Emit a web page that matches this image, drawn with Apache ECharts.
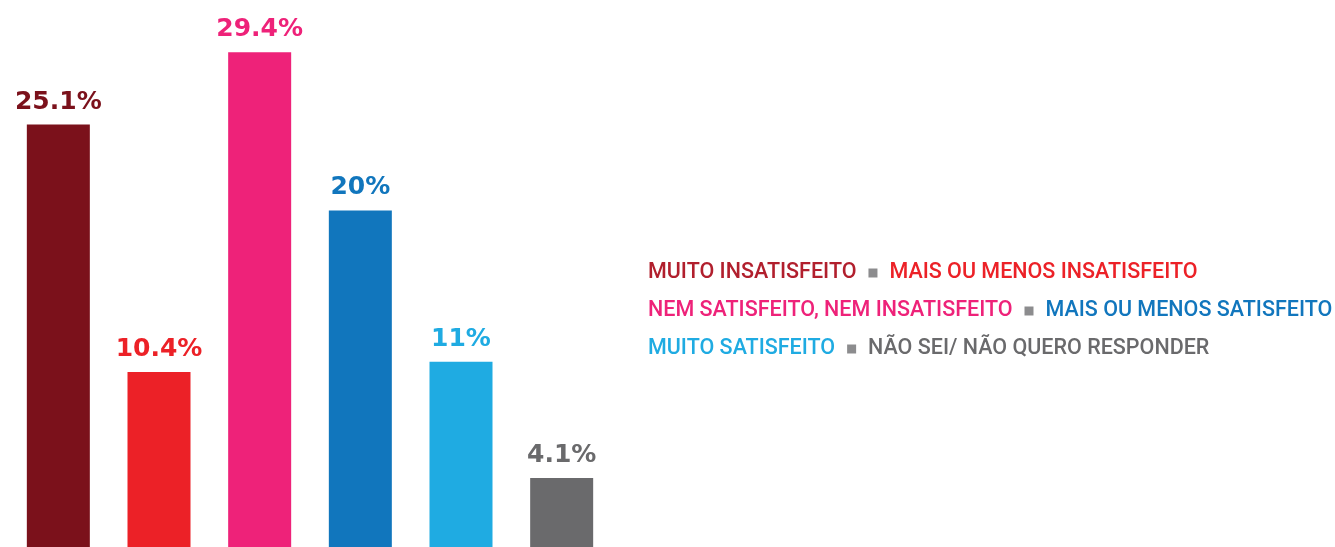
<!DOCTYPE html>
<html>
<head>
<meta charset="utf-8">
<script src="https://cdn.jsdelivr.net/npm/echarts@6/dist/echarts.min.js"></script>
<style>
  html, body { margin: 0; padding: 0; background: #fff; }
  #chart { width: 1335px; height: 547px; }
</style>
</head>
<body>
<div id="chart"></div>
<script>
const categories = [
  'MUITO INSATISFEITO',
  'MAIS OU MENOS INSATISFEITO',
  'NEM SATISFEITO, NEM INSATISFEITO',
  'MAIS OU MENOS SATISFEITO',
  'MUITO SATISFEITO',
  'NÃO SEI/ NÃO QUERO RESPONDER'
]
const values = [25.1, 10.4, 29.4, 20, 11, 4.1]
const barColors = ['#7b111b', '#ec2127', '#ee2279', '#1176bd', '#1fabe2', '#6a6a6c']
const legendColors = ['#b11f2d', '#ec2127', '#ee2279', '#1176bd', '#1fabe2', '#6a6a6c']

const chart = echarts.init(document.getElementById('chart'), null, { renderer: 'canvas' })

// legend built as rich text, two items per line with a grey square between
const rich = { sq: { width: 9, height: 9, backgroundColor: '#8c8c8e' } }
categories.forEach((c, i) => {
  rich['c' + i] = { color: legendColors[i], fontSize: 21.5, fontFamily: 'Roboto', fontWeight: 500, lineHeight: 38 }
})
const lines = []
for (let i = 0; i < categories.length; i += 2) {
  lines.push(`{c${i}|${categories[i]}}  {sq| }  {c${i + 1}|${categories[i + 1]}}`)
}

const option = {
  animation: false,
  title: {
    text: lines.join('\n'),
    left: 643,
    top: 249,
    textStyle: { rich, lineHeight: 38, fontSize: 21.5 }
  },
  // bars run past the bottom edge a little, as in the picture
  grid: { left: 8, width: 604, top: 0, height: 550 },
  xAxis: {
    type: 'category',
    data: categories,
    show: false
  },
  yAxis: {
    type: 'value',
    min: 0,
    max: 32.5,
    show: false
  },
  series: [
    {
      type: 'bar',
      barWidth: 63,
      data: values.map((v, i) => ({
        value: v,
        itemStyle: { color: barColors[i] },
        label: { color: barColors[i] }
      })),
      label: {
        show: true,
        position: 'top',
        distance: 10,
        fontFamily: 'DejaVu Sans',
        fontWeight: 'bold',
        fontSize: 25,
        formatter: p => p.value + '%'
      }
    }
  ]
}

chart.setOption(option)
</script>
</body>
</html>
